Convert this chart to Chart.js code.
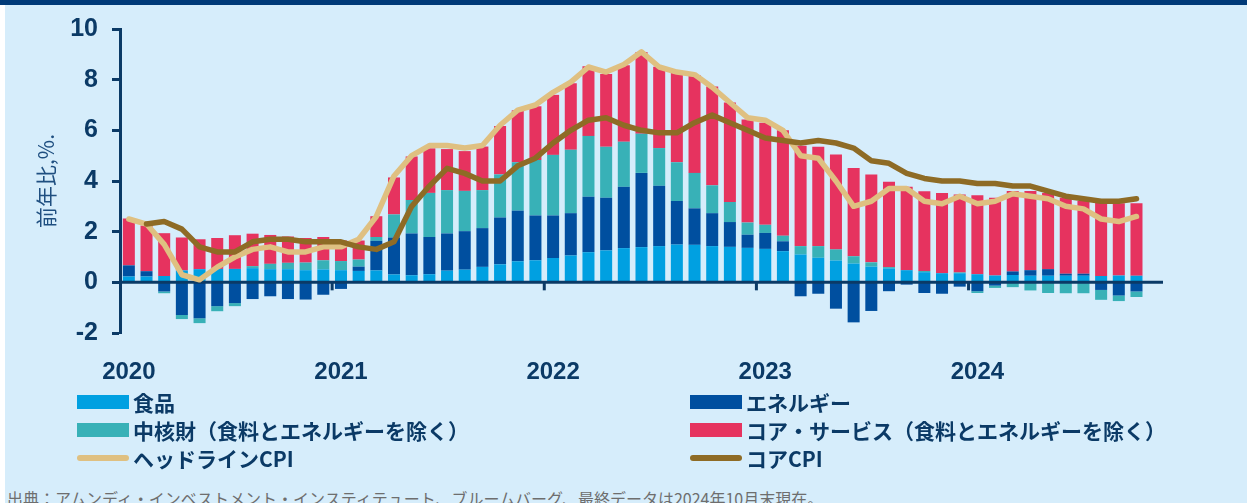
<!DOCTYPE html>
<html lang="ja">
<head>
<meta charset="utf-8">
<script src="https://cdn.jsdelivr.net/npm/chart.js@4"></script>
<style>
  html, body { margin: 0; padding: 0; }
  body {
    width: 1247px; height: 503px; overflow: hidden; position: relative;
    background: #d6edfb;
    font-family: "Noto Sans CJK JP", "Noto Sans", sans-serif;
  }
  #topbar { position: absolute; left: 0; top: 0; width: 1247px; height: 5px; background: #003a78; }
  #leftbar { position: absolute; left: 0; top: 5px; width: 5px; height: 498px; background: #ffffff; }
  #wrap { position: absolute; left: 0; top: 0; width: 1247px; height: 393px; }
  #legend {
    position: absolute; left: 77px; top: 388px;
    display: grid; grid-template-columns: 613px 520px;
  }
  .item { display: flex; align-items: center; height: 28px; }
  .box { width: 52px; height: 14px; margin-right: 4px; flex: none; }
  .line { width: 52px; height: 6px; border-radius: 3px; margin-right: 4px; flex: none; }
  .txt { font-size: 21px; font-weight: bold; color: #0b3a66; white-space: nowrap; }
  #source {
    position: absolute; left: 7px; top: 486px;
    font-size: 16px; color: #6e6e6e; white-space: nowrap;
  }
</style>
</head>
<body>
<div id="topbar"></div>
<div id="leftbar"></div>
<div id="wrap"><canvas id="myChart"></canvas></div>
<div id="legend"></div>
<div id="source">出典：アムンディ・インベストメント・インスティテュート、ブルームバーグ、最終データは2024年10月末現在。</div>
<script>
  // 寄与度（前年比, %）2020年1月〜2024年10月

  const years = [2020, 2021, 2022, 2023, 2024];

  const food = [
    0.23, 0.23, 0.25, 0.47, 0.52, 0.53, 0.53, 0.56, 0.52, 0.52, 0.48, 0.51,
    0.48, 0.45, 0.47, 0.31, 0.28, 0.32, 0.46, 0.50, 0.61, 0.71, 0.83, 0.87,
    0.96, 1.06, 1.19, 1.26, 1.35, 1.39, 1.43, 1.49, 1.48, 1.43, 1.40, 1.36,
    1.32, 1.23, 1.10, 0.97, 0.86, 0.74, 0.62, 0.55, 0.48, 0.40, 0.36, 0.36,
    0.32, 0.27, 0.29, 0.26, 0.26, 0.26, 0.26, 0.25, 0.27, 0.26
  ];

  const energy = [
    0.44, 0.21, -0.36, -1.29, -1.42, -0.94, -0.82, -0.66, -0.55, -0.66, -0.68, -0.49,
    -0.26, 0.17, 1.17, 1.46, 1.65, 1.47, 1.47, 1.52, 1.53, 1.85, 2.00, 1.77,
    1.68, 1.67, 2.19, 2.08, 2.42, 2.93, 2.38, 1.72, 1.44, 1.30, 0.98, 0.52,
    0.63, 0.39, -0.55, -0.45, -1.04, -1.58, -1.13, -0.35, -0.09, -0.42, -0.45, -0.17,
    -0.35, -0.13, 0.14, 0.22, 0.26, 0.08, 0.08, -0.30, -0.52, -0.36
  ];

  const coreGoods = [
    0, 0, -0.07, -0.16, -0.19, -0.20, -0.12, 0.08, 0.21, 0.25, 0.30, 0.36,
    0.36, 0.28, 0.15, 0.91, 1.32, 1.74, 1.71, 1.59, 1.50, 1.70, 1.91, 2.19,
    2.39, 2.50, 2.40, 2.01, 1.78, 1.55, 1.49, 1.53, 1.40, 1.10, 0.79, 0.48,
    0.32, 0.22, 0.33, 0.46, 0.44, 0.29, 0.17, 0.05, 0, 0.05, 0, 0.03,
    -0.07, -0.09, -0.19, -0.32, -0.42, -0.43, -0.43, -0.39, -0.22, -0.22
  ];

  const coreServices = [
    1.85, 1.80, 1.69, 1.30, 1.18, 1.22, 1.33, 1.28, 1.14, 1.04, 0.97, 0.92,
    0.81, 0.75, 0.82, 1.46, 1.72, 1.76, 1.62, 1.57, 1.72, 1.91, 2.05, 2.12,
    2.37, 2.63, 2.75, 2.87, 3.02, 3.22, 3.21, 3.53, 3.86, 3.90, 3.93, 4.07,
    4.03, 4.16, 3.96, 3.92, 3.75, 3.48, 3.47, 3.37, 3.29, 3.15, 3.17, 3.08,
    3.12, 3.07, 3.18, 3.13, 3.01, 3.00, 2.87, 2.89, 2.85, 2.86
  ];

  const headlineCpi = [
    2.5, 2.3, 1.5, 0.3, 0.1, 0.6, 1.0, 1.3, 1.4, 1.2, 1.2, 1.4,
    1.4, 1.7, 2.6, 4.2, 5.0, 5.4, 5.4, 5.3, 5.4, 6.2, 6.8, 7.0,
    7.5, 7.9, 8.5, 8.3, 8.6, 9.1, 8.5, 8.3, 8.2, 7.7, 7.1, 6.5,
    6.4, 6.0, 5.0, 4.9, 4.0, 3.0, 3.2, 3.7, 3.7, 3.2, 3.1, 3.4,
    3.1, 3.2, 3.5, 3.4, 3.3, 3.0, 2.9, 2.5, 2.4, 2.6
  ];

  const coreCpi = [
    null, 2.3, 2.4, 2.1, 1.4, 1.2, 1.2, 1.6, 1.7, 1.7, 1.6, 1.6,
    1.6, 1.4, 1.3, 1.6, 3.0, 3.8, 4.5, 4.3, 4.0, 4.0, 4.6, 4.9,
    5.5, 6.0, 6.4, 6.5, 6.2, 6.0, 5.9, 5.9, 6.3, 6.6, 6.3, 6.0,
    5.7, 5.6, 5.5, 5.6, 5.5, 5.3, 4.8, 4.7, 4.3, 4.1, 4.0, 4.0,
    3.9, 3.9, 3.8, 3.8, 3.6, 3.4, 3.3, 3.2, 3.2, 3.3
  ];

  // 月ラベル（2024年11月まで軸を延ばす）
  const labels = [];
  years.forEach(y => { for (let m = 1; m <= 12; m++) labels.push(y + '-' + m); });
  labels.length = 59;

  const navy = '#0b3a66';

  const data = {
    labels: labels,
    datasets: [{
      label: '食品',
      data: food,
      backgroundColor: '#00a0e1',
      stack: 'bars', order: 2,
    }, {
      label: 'エネルギー',
      data: energy,
      backgroundColor: '#004f9f',
      stack: 'bars', order: 2,
    }, {
      label: '中核財（食料とエネルギーを除く）',
      data: coreGoods,
      backgroundColor: '#38b1b7',
      stack: 'bars', order: 2,
    }, {
      label: 'コア・サービス（食料とエネルギーを除く）',
      data: coreServices,
      backgroundColor: '#e6335f',
      stack: 'bars', order: 2,
    }, {
      type: 'line',
      label: 'ヘッドラインCPI',
      data: headlineCpi,
      borderColor: '#dfc081',
      backgroundColor: '#dfc081',
      borderWidth: 5.5,
      pointRadius: 0,
      borderCapStyle: 'round',
      borderJoinStyle: 'round',
      stack: 'headline', order: 1,
    }, {
      type: 'line',
      label: 'コアCPI',
      data: coreCpi,
      borderColor: '#8e6b25',
      backgroundColor: '#8e6b25',
      borderWidth: 5.5,
      pointRadius: 0,
      borderCapStyle: 'round',
      borderJoinStyle: 'round',
      stack: 'core', order: 0,
    }]
  };

  // ゼロ線と年の区切り目盛り
  const zeroLine = {
    id: 'zeroLine',
    afterDatasetDraw(chart, args) {
      if (args.index !== 0) return;
      const { ctx, chartArea, scales: { x, y } } = chart;
      const y0 = y.getPixelForValue(0);
      ctx.save();
      ctx.strokeStyle = navy;
      ctx.lineWidth = 3;
      ctx.beginPath();
      ctx.moveTo(chartArea.left, y0);
      ctx.lineTo(chartArea.right, y0);
      ctx.stroke();
      labels.forEach((l, i) => {
        if (i > 0 && i % 12 === 0) {
          const px = (x.getPixelForValue(i - 1) + x.getPixelForValue(i)) / 2;
          ctx.beginPath();
          ctx.moveTo(px, y0);
          ctx.lineTo(px, y0 + 8);
          ctx.stroke();
        }
      });
      ctx.restore();
    }
  };

  const config = {
    type: 'bar',
    data: data,
    plugins: [zeroLine],
    options: {
      responsive: true,
      maintainAspectRatio: false,
      animation: false,
      datasets: { bar: { barPercentage: 0.68, categoryPercentage: 1.0 } },
      layout: { padding: { top: 25, right: 84, bottom: 0, left: 0 } },
      plugins: { legend: { display: false }, tooltip: { enabled: false } },
      scales: {
        x: {
          stacked: true,
          grid: { display: false, drawTicks: false },
          border: { display: false },
          afterFit: s => { s.height = 60; },
          ticks: {
            autoSkip: false, maxRotation: 0, padding: 25,
            color: navy,
            font: { family: 'Liberation Sans', size: 24, weight: 'bold' },
            callback: (v, i) => (i % 12 === 0 ? labels[i].split('-')[0] : ''),
          },
        },
        y: {
          stacked: true,
          min: -2, max: 10,
          afterFit: s => { s.width = 120; },
          grid: { drawOnChartArea: false, drawTicks: true, tickLength: 8, tickWidth: 3, tickColor: navy },
          border: { display: true, color: navy, width: 3 },
          ticks: {
            stepSize: 2, padding: 14, color: navy,
            font: { family: 'Liberation Sans', size: 25, weight: 'bold' },
          },
          title: {
            display: true, text: '前年比,%.', color: '#1f4f80',
            font: { family: 'Noto Sans CJK JP', size: 21 },
            padding: { top: 33, bottom: 0 },
          },
        },
      },
    },
  };

  const myChart = new Chart(document.getElementById('myChart'), config);

  // 凡例（2列）
  const legend = document.getElementById('legend');
  myChart.data.datasets.forEach(ds => {
    const item = document.createElement('div');
    item.className = 'item';
    const sw = document.createElement('span');
    sw.className = ds.type === 'line' ? 'line' : 'box';
    sw.style.background = ds.type === 'line' ? ds.borderColor : ds.backgroundColor;
    const t = document.createElement('span');
    t.className = 'txt';
    t.textContent = ds.label;
    item.appendChild(sw);
    item.appendChild(t);
    legend.appendChild(item);
  });
</script>
</body>
</html>
